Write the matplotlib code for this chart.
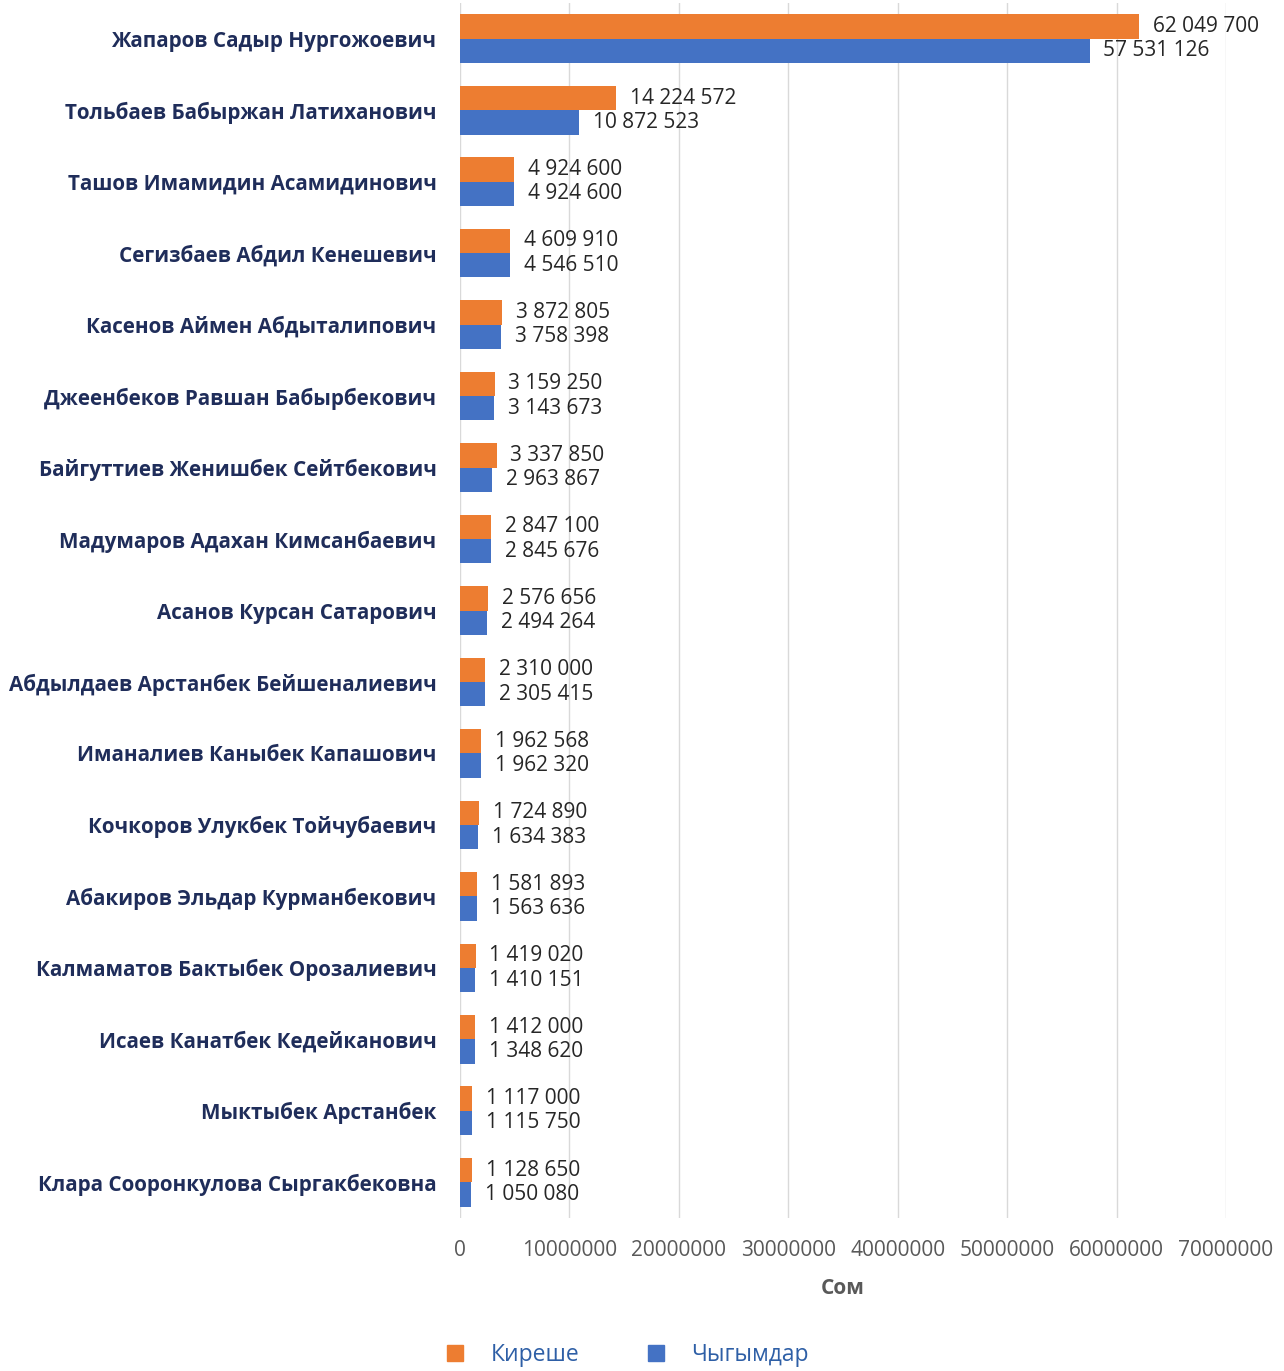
import matplotlib
matplotlib.use("Agg")
import matplotlib.pyplot as plt
import numpy as np
from matplotlib.patches import Patch

names = [
    "Жапаров Садыр Нургожоевич",
    "Тольбаев Бабыржан Латиханович",
    "Ташов Имамидин Асамидинович",
    "Сегизбаев Абдил Кенешевич",
    "Касенов Аймен Абдыталипович",
    "Джеенбеков Равшан Бабырбекович",
    "Байгуттиев Женишбек Сейтбекович",
    "Мадумаров Адахан Кимсанбаевич",
    "Асанов Курсан Сатарович",
    "Абдылдаев Арстанбек Бейшеналиевич",
    "Иманалиев Каныбек Капашович",
    "Кочкоров Улукбек Тойчубаевич",
    "Абакиров Эльдар Курманбекович",
    "Калмаматов Бактыбек Орозалиевич",
    "Исаев Канатбек Кедейканович",
    "Мыктыбек Арстанбек",
    "Клара Сооронкулова Сыргакбековна",
]
kireshe = [62049700, 14224572, 4924600, 4609910, 3872805, 3159250, 3337850,
           2847100, 2576656, 2310000, 1962568, 1724890, 1581893, 1419020,
           1412000, 1117000, 1128650]
chygymdar = [57531126, 10872523, 4924600, 4546510, 3758398, 3143673, 2963867,
             2845676, 2494264, 2305415, 1962320, 1634383, 1563636, 1410151,
             1348620, 1115750, 1050080]
xticks = [0, 10000000, 20000000, 30000000, 40000000, 50000000, 60000000, 70000000]
series_names = ["Киреше", "Чыгымдар"]

orange = "#ED7D31"
blue = "#4472C4"

def fmt(v):
    return f"{v:,}".replace(",", " ")

W, H = 1284, 1371
fig = plt.figure(figsize=(W / 100, H / 100), dpi=100)
ax = fig.add_axes([460 / W, 1 - 1218 / H, (1226 - 460) / W, (1218 - 3) / H])

n = len(names)
y = np.arange(n)
h = 0.34
ax.barh(y - h / 2, kireshe, height=h, color=orange, zorder=3)
ax.barh(y + h / 2, chygymdar, height=h, color=blue, zorder=3)

for i in range(n):
    ax.annotate(fmt(kireshe[i]), (kireshe[i], y[i] - h / 2), xytext=(10, 0),
                textcoords="offset points", va="center", ha="left",
                fontsize=15, color="#262626", family="Open Sans", clip_on=False)
    ax.annotate(fmt(chygymdar[i]), (chygymdar[i], y[i] + h / 2), xytext=(10, 0),
                textcoords="offset points", va="center", ha="left",
                fontsize=15, color="#262626", family="Open Sans", clip_on=False)

ax.set_ylim(n - 0.5, -0.5)
ax.set_xlim(0, 70000000)
ax.set_yticks(y)
ax.set_yticklabels(names, fontsize=14.9, fontweight="bold", color="#1F2D5A", family="Open Sans")
ax.set_xticks(xticks)
ax.set_xticklabels([str(t) for t in xticks], fontsize=15, color="#595959", family="Open Sans")
ax.tick_params(axis="y", length=0, pad=17)
ax.tick_params(axis="x", length=0, pad=16)
ax.grid(axis="x", color="#D9D9D9", linewidth=1, zorder=0)
for s in ax.spines.values():
    s.set_visible(False)
ax.set_xlabel("Сом", fontsize=15, fontweight="bold", color="#595959", family="Open Sans", labelpad=12)

handles = [Patch(color=orange), Patch(color=blue)]
fig.legend(handles, series_names, loc="center", bbox_to_anchor=(628 / W, 1 - 1355 / H),
           ncol=2, frameon=False, labelcolor="#2E5FA6",
           handlelength=0.7, handleheight=0.7, columnspacing=3.0, handletextpad=1.2,
           prop={"family": "Open Sans", "size": 16.5})

fig.savefig("out.png", dpi=100, facecolor="white")
